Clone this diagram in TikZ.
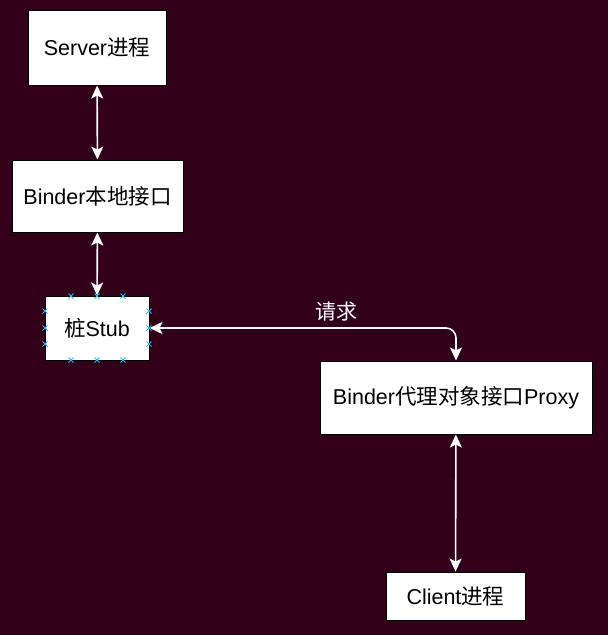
\documentclass[tikz,border=0pt]{standalone}
\usepackage{fontspec}
\setmainfont{Liberation Sans}
\newfontfamily\cjk{Noto Sans CJK SC}
\usetikzlibrary{arrows.meta}

\definecolor{bgMaroon}{RGB}{51,0,26}
\definecolor{handleBlue}{RGB}{41,182,242}

\begin{document}
\begin{tikzpicture}[
  x=1pt, y=-1pt,
  box/.style={draw=black, fill=white, line width=1pt, inner sep=0pt, font=\fontsize{21.5}{25}\selectfont},
  link/.style={draw=white, line width=1.6pt, {Stealth[length=13pt,width=12pt,inset=3pt]}-{Stealth[length=13pt,width=12pt,inset=3pt]}},
  handle/.style={draw=handleBlue, line width=0.9pt},
  tag/.style={text=white, font=\fontsize{21}{25}\selectfont}
]

% Background
\fill[bgMaroon] (0,0) rectangle (608,635);
\useasboundingbox (0,0) rectangle (608,635);

% Server side
\node[box, minimum width=138pt, minimum height=75pt] (server) at (97,47.5) {Server{\cjk 进程}};
\node[box, minimum width=171pt, minimum height=72pt] (binderlocal) at (97.5,196) {Binder{\cjk 本地接口}};
\node[box, minimum width=104pt, minimum height=64pt] (stub) at (97,328) {{\cjk 桩}Stub};

% Client side
\node[box, minimum width=272pt, minimum height=73pt] (proxy) at (456,397.5) {Binder{\cjk 代理对象接口}Proxy};
\node[box, minimum width=139pt, minimum height=48pt] (client) at (455.5,596) {Client{\cjk 进程}};

% Connectors
\draw[link] (server) -- (binderlocal);
\draw[link] (binderlocal) -- (stub);
\draw[link, rounded corners=10pt] (stub.east) -| (proxy.north);
\draw[link] (proxy) -- (client);

% Request label
\node[tag] (request) at (336,312) {\cjk 请求};

% Selection handles on the stub
\foreach \hx/\hy in {71/296, 97/296, 123/296, 71/360, 97/360, 123/360,
                     45/311, 45/328, 45/344, 149/311, 149/328, 149/344} {
  \draw[handle] (\hx-2.5,\hy-2.5) -- (\hx+2.5,\hy+2.5);
  \draw[handle] (\hx-2.5,\hy+2.5) -- (\hx+2.5,\hy-2.5);
}

\end{tikzpicture}
\end{document}
